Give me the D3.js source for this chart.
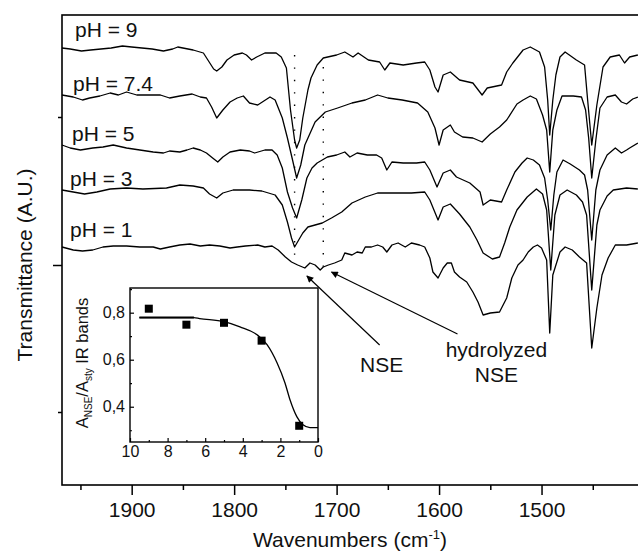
<!DOCTYPE html>
<html>
<head>
<meta charset="utf-8">
<script src="https://cdn.jsdelivr.net/npm/d3@7/dist/d3.min.js"></script>
<style>
  body { margin: 0; background: #fff; }
  svg { display: block; font-family: "Liberation Sans", Arial, sans-serif; }
</style>
</head>
<body>
<div id="chart"></div>
<script>
// IR spectra, wavenumber (cm-1) vs transmittance (arbitrary units, stacked)
const phLabels = ["pH = 9", "pH = 7.4", "pH = 5", "pH = 3", "pH = 1"];

const spec_pH9 = [[1968,437],[1960,436],[1949,434],[1940,435],[1930,436],[1920,437],[1909,439],[1900,438],[1890,437],[1880,436],[1869,434],[1860,436],[1855,438],[1850,437],[1840,435],[1830,432],[1825,424],[1820,416],[1817,414],[1812,418],[1807,425],[1800,430],[1792,432],[1788,430],[1783,425],[1778,428],[1770,432],[1759,432],[1754,428],[1749,417],[1745,375],[1741,345],[1739,337],[1736,345],[1733,367],[1728,395],[1725,407],[1719,420],[1713,427],[1700,430],[1692,433],[1684,428],[1679,432],[1669,425],[1658,423],[1653,415],[1648,422],[1635,420],[1622,422],[1614,423],[1609,415],[1604,398],[1601,393],[1596,410],[1589,413],[1580,405],[1567,402],[1558,390],[1553,397],[1539,400],[1534,413],[1528,422],[1518,435],[1511,438],[1502,433],[1497,418],[1494,385],[1492,350],[1489,385],[1486,410],[1482,428],[1477,433],[1466,425],[1458,420],[1455,385],[1451,340],[1446,380],[1440,418],[1433,428],[1424,430],[1419,422],[1414,428],[1406,430]];

const spec_pH74 = [[1968,390],[1957,388],[1948,385],[1941,387],[1931,389],[1921,392],[1913,390],[1905,393],[1895,390],[1882,390],[1872,390],[1863,387],[1853,389],[1841,391],[1833,388],[1827,387],[1822,378],[1817,367],[1811,375],[1804,383],[1797,387],[1791,389],[1785,382],[1777,380],[1765,388],[1760,385],[1753,367],[1748,347],[1743,325],[1739,307],[1735,320],[1731,340],[1721,363],[1711,373],[1699,377],[1685,382],[1672,385],[1660,390],[1650,387],[1636,385],[1621,382],[1611,373],[1604,357],[1600,340],[1596,355],[1589,360],[1585,353],[1577,348],[1567,347],[1558,343],[1550,351],[1541,358],[1534,365],[1524,381],[1518,385],[1511,389],[1505,386],[1499,370],[1495,355],[1492,313],[1489,355],[1485,375],[1480,389],[1469,389],[1461,388],[1457,375],[1454,347],[1451,307],[1447,345],[1443,377],[1436,388],[1428,390],[1422,383],[1417,381],[1411,386],[1406,388]];

const spec_pH5 = [[1968,340],[1960,337],[1950,335],[1938,337],[1928,338],[1918,340],[1905,337],[1892,335],[1879,333],[1869,332],[1863,334],[1853,333],[1846,335],[1840,337],[1833,335],[1827,332],[1821,327],[1816,323],[1811,328],[1804,333],[1794,335],[1785,334],[1780,332],[1770,335],[1763,335],[1758,330],[1753,317],[1748,293],[1743,277],[1739,267],[1734,285],[1729,307],[1724,317],[1719,322],[1714,325],[1709,328],[1700,330],[1692,333],[1687,328],[1680,332],[1670,330],[1661,330],[1656,327],[1651,315],[1646,323],[1635,322],[1622,322],[1614,323],[1609,315],[1602,298],[1596,312],[1589,315],[1583,308],[1570,302],[1560,293],[1557,280],[1550,285],[1539,283],[1534,295],[1526,313],[1519,322],[1514,327],[1508,325],[1502,320],[1497,307],[1494,285],[1491,255],[1488,290],[1485,313],[1479,325],[1472,321],[1463,315],[1458,310],[1455,295],[1451,245],[1447,295],[1443,315],[1436,330],[1428,337],[1422,332],[1417,335],[1414,337],[1406,342]];

const spec_pH3 = [[1968,295],[1957,293],[1946,291],[1934,293],[1921,296],[1905,297],[1889,296],[1866,297],[1853,300],[1840,299],[1830,297],[1824,291],[1817,287],[1811,292],[1801,295],[1785,295],[1773,294],[1760,290],[1753,280],[1748,263],[1744,247],[1741,238],[1737,245],[1733,252],[1728,258],[1714,262],[1705,267],[1695,273],[1685,282],[1672,288],[1660,292],[1643,292],[1627,292],[1614,293],[1609,285],[1605,275],[1601,265],[1596,278],[1589,281],[1580,271],[1570,258],[1563,245],[1557,232],[1548,226],[1541,228],[1536,242],[1531,258],[1524,275],[1514,288],[1505,296],[1499,291],[1495,275],[1491,215],[1487,270],[1482,290],[1475,295],[1466,290],[1460,283],[1456,270],[1451,195],[1446,260],[1443,275],[1436,289],[1430,295],[1417,297],[1406,296]];

const spec_pH1 = [[1968,238],[1957,235],[1948,234],[1938,235],[1928,238],[1918,239],[1905,239],[1892,238],[1879,238],[1872,236],[1863,238],[1853,240],[1843,241],[1833,239],[1824,240],[1814,239],[1804,237],[1797,238],[1789,239],[1777,240],[1770,238],[1763,239],[1757,235],[1750,228],[1744,223],[1738,220],[1731,217],[1726,222],[1721,220],[1716,215],[1713,218],[1708,220],[1702,222],[1695,225],[1692,232],[1685,230],[1680,233],[1675,232],[1672,238],[1666,238],[1660,240],[1655,238],[1651,233],[1646,240],[1640,242],[1633,238],[1627,242],[1619,240],[1614,238],[1609,227],[1606,213],[1601,207],[1596,217],[1592,222],[1588,222],[1585,213],[1580,208],[1573,203],[1567,193],[1562,183],[1557,170],[1550,172],[1541,173],[1534,187],[1529,207],[1523,220],[1518,225],[1513,233],[1508,238],[1504,240],[1500,237],[1495,225],[1492,152],[1489,210],[1482,233],[1477,238],[1470,235],[1463,228],[1456,222],[1451,137],[1446,177],[1441,210],[1435,227],[1428,240],[1417,240],[1406,242]];

const xTicks = [1900, 1800, 1700, 1600, 1500];
const xMinorTicks = [1950, 1850, 1750, 1650, 1550, 1450];
const yMajorTicks = [220];
const yMinorTicks = [73, 368];
const bandLines = [1741, 1713];

// inset: band ratio vs pH
const insetPH = [9, 7, 5, 3, 1];
const insetRatio = [0.817, 0.749, 0.757, 0.681, 0.319];
const fitPH = [9.5, 6.6, 6.3, 5.0, 4.15, 3.24, 2.71, 2.18, 1.76, 1.49, 1.12, 0.8, 0.43, 0];
const fitRatio = [0.779, 0.779, 0.775, 0.762, 0.74, 0.706, 0.664, 0.587, 0.502, 0.43, 0.357, 0.323, 0.311, 0.311];
const insetXTicks = [10, 8, 6, 4, 2, 0];
const insetXMinor = [9, 7, 5, 3, 1];
const insetYTicks = [0.4, 0.6, 0.8];
const insetYMinor = [0.3, 0.5, 0.7, 0.9];

const series = [spec_pH9, spec_pH74, spec_pH5, spec_pH3, spec_pH1];

const width = 638, height = 553;
const svg = d3.select("#chart").append("svg")
    .attr("width", width)
    .attr("height", height);

const x = d3.scaleLinear().domain([1968, 1400]).range([62, 644]);
const y = d3.scaleLinear().domain([0, 470]).range([485, 15]);

// frame
svg.append("rect")
    .attr("x", x(1968)).attr("y", y(470))
    .attr("width", x(1400) - x(1968)).attr("height", y(0) - y(470))
    .attr("fill", "none").attr("stroke", "#000").attr("stroke-width", 1.6);

// x axis
const gx = svg.append("g")
    .attr("transform", `translate(0,${y(0)})`)
    .call(d3.axisBottom(x).tickValues(xTicks).tickSize(10).tickPadding(7).tickFormat(d3.format("d")));
gx.select(".domain").remove();
gx.selectAll("line").attr("stroke-width", 1.5);
gx.selectAll("text").attr("font-size", 21).attr("font-family", "Liberation Sans, Arial, sans-serif").attr("fill", "#111");

const gxm = svg.append("g")
    .attr("transform", `translate(0,${y(0)})`)
    .call(d3.axisBottom(x).tickValues(xMinorTicks).tickSize(5).tickFormat(""));
gxm.select(".domain").remove();
gxm.selectAll("line").attr("stroke-width", 1.5);

// y axis (no labels)
const gy = svg.append("g")
    .attr("transform", `translate(${x(1968)},0)`)
    .call(d3.axisLeft(y).tickValues(yMajorTicks).tickSize(9).tickFormat(""));
gy.select(".domain").remove();
gy.selectAll("line").attr("stroke-width", 1.5);

const gym = svg.append("g")
    .attr("transform", `translate(${x(1968)},0)`)
    .call(d3.axisLeft(y).tickValues(yMinorTicks).tickSize(4).tickFormat(""));
gym.select(".domain").remove();
gym.selectAll("line").attr("stroke-width", 1.5);

// axis titles
const xt = svg.append("text")
    .attr("x", 350).attr("y", 547)
    .attr("text-anchor", "middle")
    .attr("font-size", 21).attr("fill", "#111")
    .text("Wavenumbers (cm");
xt.append("tspan").attr("dy", -8).attr("font-size", 13).text("-1");
xt.append("tspan").attr("dy", 8).text(")");

svg.append("text")
    .attr("transform", "translate(32,265) rotate(-90)")
    .attr("text-anchor", "middle")
    .attr("font-size", 21).attr("fill", "#111")
    .text("Transmittance (A.U.)");

// dotted band markers
svg.selectAll(".band")
    .data(bandLines)
    .join("line")
    .attr("class", "band")
    .attr("x1", d => x(d)).attr("x2", d => x(d))
    .attr("y1", (d, i) => y(i === 0 ? 430 : 418))
    .attr("y2", (d, i) => y(i === 0 ? 220 : 208))
    .attr("stroke", "#000").attr("stroke-width", 1.4)
    .attr("stroke-dasharray", "1.4,11");

// spectra
const line = d3.line().x(d => x(d[0])).y(d => y(d[1]));
svg.selectAll(".spec")
    .data(series)
    .join("path")
    .attr("class", "spec")
    .attr("d", line)
    .attr("fill", "none")
    .attr("stroke", "#000")
    .attr("stroke-width", 1.3)
    .attr("stroke-linejoin", "round");

// pH labels
const labelShiftX = [13, 11, 10, 8, 8];
const labelLift = [11, 4, 4, 4, 10];
svg.selectAll(".phlab")
    .data(phLabels)
    .join("text")
    .attr("class", "phlab")
    .attr("x", (d, i) => x(series[i][0][0]) + labelShiftX[i])
    .attr("y", (d, i) => y(series[i][0][1]) - labelLift[i])
    .attr("font-size", 21).attr("fill", "#111")
    .text(d => d);

// inset
const ix = d3.scaleLinear().domain([10, 0]).range([130, 318]);
const iy = d3.scaleLinear().domain([0.25, 0.905]).range([442, 288]);

svg.append("rect")
    .attr("x", ix(10)).attr("y", iy(0.905))
    .attr("width", ix(0) - ix(10)).attr("height", iy(0.25) - iy(0.905))
    .attr("fill", "#fff").attr("stroke", "#000").attr("stroke-width", 1.4);

const commaFmt = d => d3.format(".1f")(d).replace(".", ",");

const iyAxis = svg.append("g")
    .attr("transform", `translate(${ix(10)},0)`)
    .call(d3.axisLeft(iy).tickValues(insetYTicks).tickSize(-4).tickPadding(5).tickFormat(commaFmt));
iyAxis.select(".domain").remove();
iyAxis.selectAll("text").attr("font-size", 16).attr("font-family", "Liberation Sans, Arial, sans-serif").attr("fill", "#111");
iyAxis.selectAll("line").attr("stroke-width", 1.2);

const iyMinor = svg.append("g")
    .attr("transform", `translate(${ix(10)},0)`)
    .call(d3.axisLeft(iy).tickValues(insetYMinor).tickSize(-2).tickFormat(""));
iyMinor.select(".domain").remove();
iyMinor.selectAll("line").attr("stroke-width", 1.2);

const ixAxis = svg.append("g")
    .attr("transform", `translate(0,${iy(0.25)})`)
    .call(d3.axisBottom(ix).tickValues(insetXTicks).tickSize(-4).tickPadding(4).tickFormat(d3.format("d")));
ixAxis.select(".domain").remove();
ixAxis.selectAll("text").attr("font-size", 16).attr("font-family", "Liberation Sans, Arial, sans-serif").attr("fill", "#111");
ixAxis.selectAll("line").attr("stroke-width", 1.2);

const ixMinor = svg.append("g")
    .attr("transform", `translate(0,${iy(0.25)})`)
    .call(d3.axisBottom(ix).tickValues(insetXMinor).tickSize(-2).tickFormat(""));
ixMinor.select(".domain").remove();
ixMinor.selectAll("line").attr("stroke-width", 1.2);

// fitted curve (flat plateau part drawn bolder, as in the original)
const fitData = fitPH.map((p, i) => [p, fitRatio[i]]);
const fitLine = d3.line().x(d => ix(d[0])).y(d => iy(d[1])).curve(d3.curveMonotoneX);
svg.append("path")
    .datum(fitData)
    .attr("d", fitLine)
    .attr("fill", "none").attr("stroke", "#000").attr("stroke-width", 1.3);
svg.append("path")
    .datum(fitData.slice(0, 2))
    .attr("d", fitLine)
    .attr("fill", "none").attr("stroke", "#000").attr("stroke-width", 2);

// measured points
const sq = 8;
svg.selectAll(".pt")
    .data(insetPH.map((p, i) => [p, insetRatio[i]]))
    .join("rect")
    .attr("class", "pt")
    .attr("x", d => ix(d[0]) - sq / 2)
    .attr("y", d => iy(d[1]) - sq / 2)
    .attr("width", sq).attr("height", sq)
    .attr("fill", "#000");

// inset y title
const iyt = svg.append("text")
    .attr("transform", "translate(88,363) rotate(-90)")
    .attr("text-anchor", "middle")
    .attr("font-size", 16.5).attr("fill", "#111");
iyt.append("tspan").text("A");
iyt.append("tspan").attr("dy", 4).attr("font-size", 10).text("NSE");
iyt.append("tspan").attr("dy", -4).text("/A");
iyt.append("tspan").attr("dy", 4).attr("font-size", 10).text("sty");
iyt.append("tspan").attr("dy", -4).text(" IR bands");

// annotation arrows
const defs = svg.append("defs");
defs.append("marker")
    .attr("id", "head")
    .attr("viewBox", "0 0 10 10")
    .attr("refX", 9).attr("refY", 5)
    .attr("markerWidth", 9).attr("markerHeight", 7)
    .attr("markerUnits", "userSpaceOnUse")
    .attr("orient", "auto")
    .append("path").attr("d", "M0,0 L10,5 L0,10 Z").attr("fill", "#000");

const arrows = [
    { from: [1658, 140], to: [1729, 209] },
    { from: [1582, 151], to: [1705, 213] }
];
svg.selectAll(".arrow")
    .data(arrows)
    .join("line")
    .attr("class", "arrow")
    .attr("x1", d => x(d.from[0])).attr("y1", d => y(d.from[1]))
    .attr("x2", d => x(d.to[0])).attr("y2", d => y(d.to[1]))
    .attr("stroke", "#000").attr("stroke-width", 1.2)
    .attr("marker-end", "url(#head)");

const notes = [
    { text: "NSE", at: [1656, 113] },
    { text: "hydrolyzed", at: [1544, 128] },
    { text: "NSE", at: [1544, 103] }
];
svg.selectAll(".note")
    .data(notes)
    .join("text")
    .attr("class", "note")
    .attr("x", d => x(d.at[0])).attr("y", d => y(d.at[1]))
    .attr("text-anchor", "middle")
    .attr("font-size", 21).attr("fill", "#111")
    .text(d => d.text);
</script>
</body>
</html>
